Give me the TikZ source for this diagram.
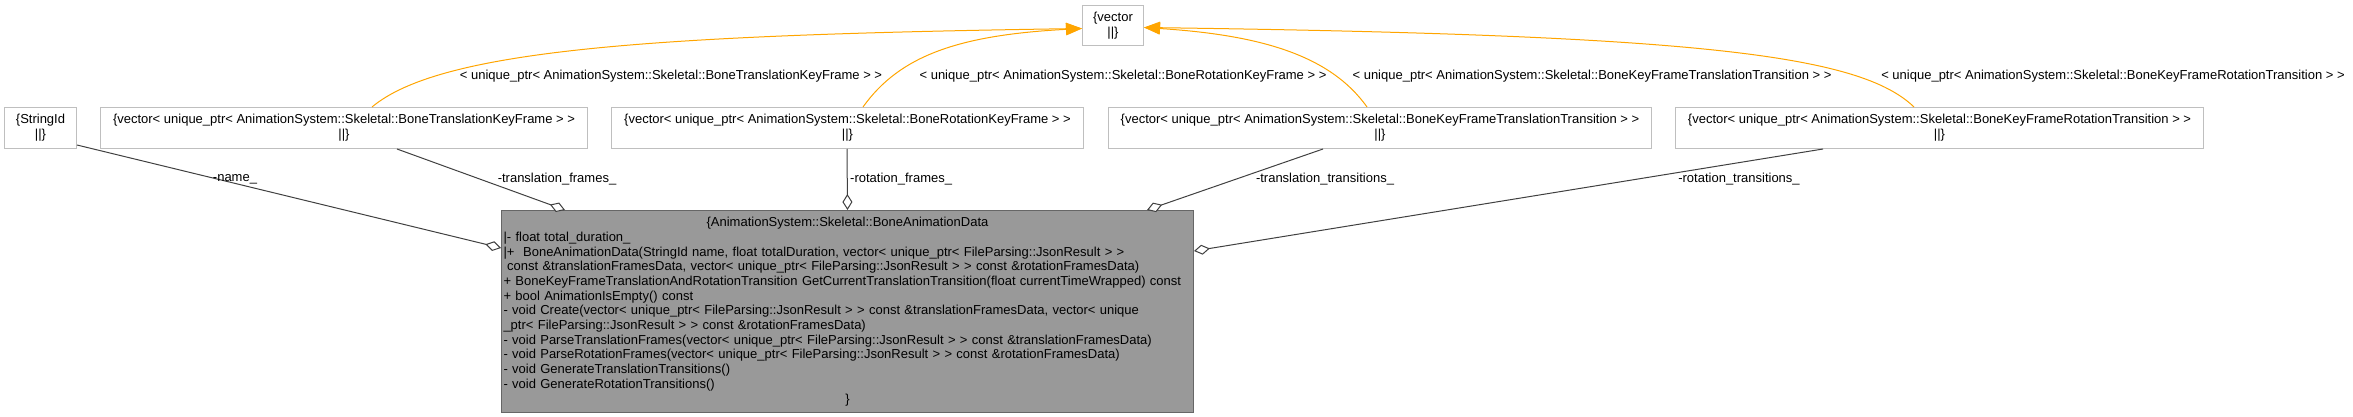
\documentclass[tikz,border=0pt]{standalone}
\usepackage{fontspec}
\setmainfont{Liberation Sans}
\usetikzlibrary{arrows.meta}
\definecolor{boxline}{HTML}{BFBFBF}
\definecolor{mainfill}{HTML}{999999}
\definecolor{mainline}{HTML}{666666}
\definecolor{edgecol}{HTML}{404040}
\definecolor{tmplcol}{HTML}{FFA500}
\begin{document}
\begin{tikzpicture}[x=1pt,y=-1pt,
  every node/.style={font=\fontsize{13}{14.7}\selectfont, inner sep=0pt},
  cls/.style={draw=boxline, line width=1pt, fill=white, align=center, anchor=north west, minimum height=41pt},
  mainbox/.style={draw=mainline, fill=mainfill, line width=1pt, anchor=north west,
    minimum width=692pt, minimum height=202pt, text width=688pt, inner xsep=2pt},
  lbl/.style={text=black},
  assoc/.style={draw=edgecol, line width=1pt, -{Diamond[fill=white,length=16pt,width=10pt]}},
  tmplarr/.style={draw=tmplcol, line width=1pt, -{Triangle[length=16pt,width=12pt]}}]
\useasboundingbox (0,0) rectangle (2353,417);

% vector template box
\node[cls, minimum width=61pt, minimum height=40pt] (vec) at (1082,5) {\{vector\\||\}};

% member type boxes
\node[cls, minimum width=72pt] (sid) at (4,107) {\{StringId\\||\}};
\node[cls, minimum width=487pt] (b1) at (100,107) {\{vector< unique\_ptr< AnimationSystem::Skeletal::BoneTranslationKeyFrame > >\\||\}};
\node[cls, minimum width=472pt] (b2) at (611,107) {\{vector< unique\_ptr< AnimationSystem::Skeletal::BoneRotationKeyFrame > >\\||\}};
\node[cls, minimum width=543pt] (b3) at (1108,107) {\{vector< unique\_ptr< AnimationSystem::Skeletal::BoneKeyFrameTranslationTransition > >\\||\}};
\node[cls, minimum width=528pt] (b4) at (1675,107) {\{vector< unique\_ptr< AnimationSystem::Skeletal::BoneKeyFrameRotationTransition > >\\||\}};

% main class
\node[mainbox] (main) at (501,210) {%
{\centering \{AnimationSystem::Skeletal::BoneAnimationData\par}%
{\raggedright |- float total\_duration\_\\
|+\ \ BoneAnimationData(StringId name, float totalDuration, vector< unique\_ptr< FileParsing::JsonResult > >\\
\hspace*{3.6pt}const \&translationFramesData, vector< unique\_ptr< FileParsing::JsonResult > > const \&rotationFramesData)\\
+ BoneKeyFrameTranslationAndRotationTransition GetCurrentTranslationTransition(float currentTimeWrapped) const\\
+ bool AnimationIsEmpty() const\\
- void Create(vector< unique\_ptr< FileParsing::JsonResult > > const \&translationFramesData, vector< unique\\
\_ptr< FileParsing::JsonResult > > const \&rotationFramesData)\\
- void ParseTranslationFrames(vector< unique\_ptr< FileParsing::JsonResult > > const \&translationFramesData)\\
- void ParseRotationFrames(vector< unique\_ptr< FileParsing::JsonResult > > const \&rotationFramesData)\\
- void GenerateTranslationTransitions()\\
- void GenerateRotationTransitions()\par}%
{\centering \}\par}};

% template instantiation edges (orange)
\draw[tmplarr] ([xshift=272pt]b1.north west) .. controls (440,50) and (650,35) .. ([yshift=-3pt]vec.west);
\draw[tmplarr] ([xshift=252pt]b2.north west) .. controls (900,55) and (960,35) .. ([yshift=-3pt]vec.west);
\draw[tmplarr] ([xshift=259pt]b3.north west) .. controls (1330,55) and (1260,35) .. ([yshift=-2pt]vec.east);
\draw[tmplarr] ([xshift=239pt]b4.north west) .. controls (1860,55) and (1700,35) .. ([yshift=-2pt]vec.east);

\node[lbl] (t1) at (671,76) {< unique\_ptr< AnimationSystem::Skeletal::BoneTranslationKeyFrame > >};
\node[lbl] (t2) at (1123,76) {< unique\_ptr< AnimationSystem::Skeletal::BoneRotationKeyFrame > >};
\node[lbl] (t3) at (1592,76) {< unique\_ptr< AnimationSystem::Skeletal::BoneKeyFrameTranslationTransition > >};
\node[lbl] (t4) at (2113,76) {< unique\_ptr< AnimationSystem::Skeletal::BoneKeyFrameRotationTransition > >};

% association edges
\draw[assoc] ([yshift=4pt]sid.south east) -- ([yshift=-38pt]main.north west);
\draw[assoc] ([xshift=297pt]b1.south west) -- ([xshift=64pt]main.north west);
\draw[assoc] ([xshift=236pt]b2.south west) -- (main.north);
\draw[assoc] ([xshift=215pt]b3.south west) -- ([xshift=-47pt]main.north east);
\draw[assoc] ([xshift=148pt]b4.south west) -- ([yshift=-41pt]main.north east);

\node[lbl] (a1) at (235,179) {-name\_};
\node[lbl] (a2) at (557,179) {-translation\_frames\_};
\node[lbl, anchor=west] (a3) at (850,179) {-rotation\_frames\_};
\node[lbl] (a4) at (1325,179) {-translation\_transitions\_};
\node[lbl] (a5) at (1739,179) {-rotation\_transitions\_};
\end{tikzpicture}
\end{document}
